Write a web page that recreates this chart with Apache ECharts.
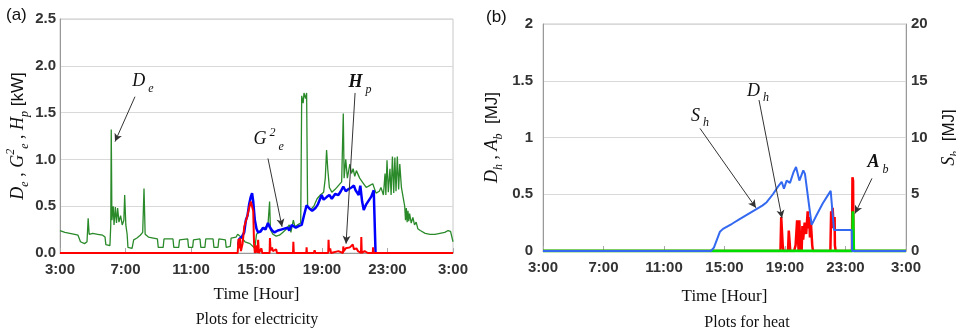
<!DOCTYPE html>
<html><head><meta charset="utf-8">
<script src="https://cdn.jsdelivr.net/npm/echarts@6/dist/echarts.min.js"></script>
<style>html,body{margin:0;padding:0;background:#fff}#c{width:956px;height:335px}</style>
</head><body><div id="c"></div>
<script>
// x values are hours elapsed since 3:00 (0..24)
const xTickLabels = ['3:00','7:00','11:00','15:00','19:00','23:00','3:00'];

// (a) electricity [kW]
const deData = [[0,0.24],[0.3,0.22],[0.6,0.21],[0.9,0.2],[1.1,0.19],[1.25,0.12],[1.5,0.1],[1.65,0.12],[1.72,0.37],[1.78,0.2],[2.0,0.21],[2.3,0.2],[2.6,0.19],[2.75,0.17],[2.8,0.09],[3.05,0.08],[3.1,0.3],[3.13,1.32],[3.17,0.35],[3.25,0.5],[3.3,0.3],[3.38,0.49],[3.45,0.32],[3.52,0.48],[3.6,0.33],[3.7,0.4],[3.8,0.3],[3.9,0.35],[3.95,0.62],[4.02,0.3],[4.1,0.2],[4.15,0.06],[4.4,0.05],[4.5,0.14],[4.7,0.16],[4.9,0.19],[5.05,0.22],[5.13,0.69],[5.2,0.2],[5.4,0.17],[5.7,0.16],[5.95,0.15],[6.0,0.06],[6.3,0.06],[6.35,0.15],[6.9,0.15],[6.95,0.06],[7.25,0.06],[7.3,0.14],[7.8,0.15],[7.85,0.06],[8.1,0.06],[8.15,0.14],[8.55,0.15],[8.6,0.06],[8.85,0.06],[8.9,0.15],[9.35,0.15],[9.4,0.06],[9.65,0.06],[9.7,0.15],[10.1,0.14],[10.15,0.06],[10.4,0.07],[10.45,0.16],[10.75,0.17],[10.85,0.2],[11.0,0.18],[11.3,0.12],[11.6,0.1],[11.9,0.05],[12.0,0.2],[12.1,0.22],[12.3,0.25],[12.5,0.27],[12.7,0.3],[12.8,0.55],[12.85,0.25],[13.0,0.2],[13.2,0.18],[13.4,0.19],[13.6,0.22],[13.8,0.25],[14.0,0.3],[14.1,0.22],[14.25,0.35],[14.35,0.28],[14.5,0.3],[14.7,0.32],[14.76,1.68],[14.85,1.6],[14.9,1.71],[15.0,1.65],[15.06,1.71],[15.12,0.5],[15.3,0.46],[15.5,0.5],[15.7,0.58],[15.9,0.62],[16.1,0.65],[16.2,0.8],[16.28,1.1],[16.35,0.9],[16.45,0.7],[16.6,0.65],[16.8,0.68],[17.0,0.72],[17.2,0.76],[17.3,1.49],[17.35,0.8],[17.45,1.0],[17.55,0.8],[17.7,0.95],[17.8,0.85],[17.9,0.9],[18.0,0.82],[18.1,0.88],[18.3,0.8],[18.5,0.75],[18.7,0.7],[18.9,0.72],[19.1,0.74],[19.3,0.64],[19.5,0.66],[19.6,0.7],[19.75,0.62],[19.85,0.85],[19.9,0.62],[19.97,0.99],[20.05,0.65],[20.15,0.9],[20.22,0.62],[20.3,1.03],[20.38,0.64],[20.45,1.02],[20.52,0.66],[20.6,1.03],[20.68,0.68],[20.75,0.95],[20.85,0.7],[20.95,0.6],[21.05,0.5],[21.1,0.35],[21.15,0.48],[21.2,0.33],[21.25,0.45],[21.3,0.34],[21.35,0.42],[21.45,0.32],[21.55,0.38],[21.65,0.3],[21.75,0.33],[21.85,0.26],[22.0,0.24],[22.3,0.21],[22.6,0.2],[22.9,0.2],[23.2,0.21],[23.5,0.22],[23.7,0.24],[23.85,0.23],[24.0,0.12]];
const geData = [[10.88,0.08],[10.95,0.15],[11.1,0.17],[11.25,0.22],[11.35,0.35],[11.45,0.4],[11.55,0.52],[11.65,0.6],[11.73,0.64],[11.8,0.55],[11.9,0.35],[12.0,0.26],[12.1,0.22],[12.25,0.23],[12.4,0.27],[12.55,0.25],[12.7,0.32],[12.8,0.28],[12.95,0.24],[13.1,0.22],[13.3,0.24],[13.5,0.25],[13.7,0.26],[13.9,0.27],[14.0,0.24],[14.15,0.3],[14.25,0.32],[14.4,0.27],[14.6,0.29],[14.76,0.3],[14.9,0.4],[15.06,0.51],[15.2,0.48],[15.4,0.45],[15.6,0.48],[15.75,0.52],[15.98,0.62],[16.1,0.57],[16.3,0.6],[16.45,0.62],[16.6,0.58],[16.8,0.63],[17.0,0.62],[17.15,0.66],[17.3,0.71],[17.45,0.66],[17.6,0.68],[17.8,0.7],[17.95,0.72],[18.05,0.67],[18.15,0.65],[18.24,0.62],[18.34,0.72],[18.45,0.55],[18.55,0.46],[18.7,0.52],[18.85,0.56],[19.0,0.6],[19.16,0.67],[19.25,0.66],[19.27,0]];
const hpData = [[0,0],[10.85,0],[10.9,0.15],[10.95,0.05],[11.0,0.16],[11.05,0.02],[11.15,0.1],[11.25,0.28],[11.35,0.3],[11.45,0.4],[11.55,0.48],[11.65,0.55],[11.73,0.57],[11.8,0.45],[11.85,0.1],[11.9,0],[12.0,0.08],[12.05,0],[12.1,0.14],[12.15,0],[12.3,0.05],[12.35,0],[12.8,0],[12.82,0.16],[12.86,0.03],[12.95,0.06],[13.0,0.02],[13.2,0.04],[13.25,0],[14.23,0],[14.25,0.12],[14.28,0],[15.04,0],[15.06,0.06],[15.08,0],[15.5,0],[15.55,0.03],[15.6,0],[16.38,0],[16.4,0.14],[16.43,0.02],[16.5,0.05],[16.55,0],[17.0,0.02],[17.1,0],[17.28,0],[17.3,0.07],[17.33,0.02],[17.45,0.05],[17.5,0.03],[17.7,0.06],[17.8,0.04],[17.88,0.09],[17.95,0.04],[18.1,0.05],[18.2,0.02],[18.38,0],[18.4,0.17],[18.43,0],[18.6,0.02],[18.8,0],[19.1,0],[19.12,0.06],[19.15,0],[24,0]];

// (b) heat [MJ]
const shData = [[0,0],[11.1,0],[11.3,0.3],[11.5,1.0],[11.7,1.7],[11.9,1.95],[12.5,2.4],[13.0,2.8],[13.5,3.2],[14.0,3.6],[14.5,4.0],[14.79,4.3],[15.2,5.0],[15.5,5.6],[15.78,6.1],[15.93,5.5],[16.11,6.2],[16.33,6.0],[16.55,6.9],[16.73,7.4],[16.95,6.2],[17.21,7.1],[17.32,6.8],[17.76,2.3],[18.1,3.2],[18.5,4.2],[19.02,5.3],[19.24,1.85],[20.41,1.85],[20.44,0],[24,0]];
const dhData = [[0,0],[15.7,0],[15.75,0.3],[15.8,0.31],[15.85,0.05],[15.9,0],[16.2,0],[16.25,0.18],[16.3,0.19],[16.35,0],[16.6,0],[16.7,0.05],[16.8,0.27],[16.85,0.26],[16.9,0],[16.95,0.27],[17.0,0.05],[17.1,0],[17.15,0.22],[17.2,0.1],[17.3,0.25],[17.4,0.15],[17.5,0.35],[17.55,0.2],[17.6,0.3],[17.65,0.12],[17.7,0.28],[17.8,0.05],[17.85,0],[19.0,0],[19.05,0.35],[19.1,0.2],[19.15,0.38],[19.2,0.25],[19.28,0.3],[19.3,0.05],[19.35,0],[20.43,0],[20.46,0.65],[20.5,0.62],[20.53,0],[24,0]];
const abData = [[0,0],[20.47,0],[20.49,0.35],[20.52,0.35],[20.54,0],[24,0]];

const serif = 'Liberation Serif', sans = 'Liberation Sans';
const rich = {
  i: {fontFamily: serif, fontStyle: 'italic', fontSize: 18, lineHeight: 26, verticalAlign: 'middle', color: '#111'},
  b: {fontFamily: serif, fontStyle: 'italic', fontWeight: 'bold', fontSize: 18, lineHeight: 26, verticalAlign: 'middle', color: '#111'},
  s: {fontFamily: serif, fontStyle: 'italic', fontSize: 12, lineHeight: 12, verticalAlign: 'bottom', color: '#111'},
  p: {fontFamily: serif, fontStyle: 'italic', fontSize: 12, lineHeight: 12, verticalAlign: 'top', color: '#111'},
  n: {fontFamily: serif, fontSize: 18, lineHeight: 26, verticalAlign: 'middle', color: '#111'},
  u: {fontFamily: sans, fontSize: 17, lineHeight: 26, verticalAlign: 'middle', color: '#111'}
};
const xLabel = v => xTickLabels[Math.round(v / 4)];
const axisLbl = {fontFamily: sans, fontSize: 15, fontWeight: 'bold', color: '#333'};

function xAxisDef(grid, gap) {
  return {type: 'value', gridIndex: grid, min: 0, max: 24, interval: 4,
    axisLine: {lineStyle: {color: '#999'}}, axisTick: {inside: true, length: 5, lineStyle: {color: '#aaa'}},
    splitLine: {show: false}, axisLabel: Object.assign({formatter: xLabel, margin: 9}, axisLbl),
    name: 'Time [Hour]', nameLocation: 'middle', nameGap: gap,
    nameTextStyle: {fontFamily: serif, fontSize: 17, color: '#111'}};
}
function arrow(a, b) { return [{coord: a}, {coord: b}]; }
const markLineStyle = {silent: true, symbol: ['none', 'arrow'], symbolSize: [6, 8], label: {show: false},
  lineStyle: {color: '#333', width: 1, type: 'solid'}, emphasis: {disabled: true}};
function labelPt(coord, text) {
  return {coord: coord, symbol: 'circle', symbolSize: 1, itemStyle: {color: 'rgba(0,0,0,0)'},
    label: {show: true, position: 'inside', formatter: text, rich: rich}};
}

const chart = echarts.init(document.getElementById('c'));
chart.setOption({
  animation: false,
  grid: [
    {left: 60, top: 19, width: 393, height: 234, show: true, borderColor: '#c8c8c8', borderWidth: 1, containLabel: false, outerBoundsMode: 'none'},
    {left: 543, top: 24, width: 363, height: 227, show: true, borderColor: '#c8c8c8', borderWidth: 1, containLabel: false, outerBoundsMode: 'none'}
  ],
  xAxis: [xAxisDef(0, 33), xAxisDef(1, 37)],
  yAxis: [
    {type: 'value', gridIndex: 0, min: 0, max: 2.5, interval: 0.5,
      axisLine: {show: true, lineStyle: {color: '#999'}}, axisTick: {show: false},
      splitLine: {lineStyle: {color: '#d9d9d9'}},
      axisLabel: Object.assign({formatter: v => v.toFixed(1), margin: 4}, axisLbl),
      name: '{i|D}{s|e}{n| , }{i|G}{p|2}{s|e}{n| , }{i|H}{s|p}{u| [kW]}', nameLocation: 'middle', nameRotate: 90, nameGap: 28,
      nameTextStyle: {rich: rich}},
    {type: 'value', gridIndex: 1, min: 0, max: 2, interval: 0.5,
      axisLine: {show: true, lineStyle: {color: '#999'}}, axisTick: {show: false},
      splitLine: {lineStyle: {color: '#d9d9d9'}},
      axisLabel: Object.assign({margin: 10}, axisLbl),
      name: '{i|D}{s|h}{n| , }{i|A}{s|b}{u|  [MJ]}', nameLocation: 'middle', nameRotate: 90, nameGap: 38,
      nameTextStyle: {rich: rich}},
    {type: 'value', gridIndex: 1, position: 'right', min: 0, max: 20, interval: 5,
      axisLine: {show: true, lineStyle: {color: '#999'}}, axisTick: {show: false},
      splitLine: {show: false},
      axisLabel: Object.assign({margin: 5}, axisLbl),
      name: '{i|S}{s|h}{u|  [MJ]}', nameLocation: 'middle', nameRotate: 90, nameGap: 30,
      nameTextStyle: {rich: rich}}
  ],
  series: [
    {type: 'line', xAxisIndex: 0, yAxisIndex: 0, data: deData, showSymbol: false, z: 2,
      lineStyle: {color: '#2a8a2a', width: 1.3},
      markLine: Object.assign({data: [arrow([4.58, 1.67], [3.36, 1.19])]}, markLineStyle),
      markPoint: {data: [labelPt([5.07, 1.83], '{i|D}{s| e}')]}},
    {type: 'line', xAxisIndex: 0, yAxisIndex: 0, data: geData, showSymbol: false, z: 3,
      lineStyle: {color: '#0000ff', width: 2.5},
      markLine: Object.assign({data: [arrow([12.7, 1.01], [13.56, 0.28])]}, markLineStyle),
      markPoint: {data: [labelPt([12.75, 1.21], '{i|G}{p| 2}{s| e}')]}},
    {type: 'line', xAxisIndex: 0, yAxisIndex: 0, data: hpData, showSymbol: false, z: 4,
      lineStyle: {color: '#ff0000', width: 2},
      markLine: Object.assign({data: [arrow([18.02, 1.71], [17.47, 0.1])]}, markLineStyle),
      markPoint: {data: [labelPt([18.32, 1.82], '{b|H}{s| p}')]}},
    {type: 'line', xAxisIndex: 1, yAxisIndex: 1, data: dhData, showSymbol: false, z: 2,
      lineStyle: {color: '#ff0000', width: 2.5},
      markLine: Object.assign({data: [arrow([14.28, 1.33], [15.8, 0.29])]}, markLineStyle),
      markPoint: {data: [labelPt([14.21, 1.41], '{i|D}{s| h}')]}},
    {type: 'line', xAxisIndex: 1, yAxisIndex: 1, data: abData, showSymbol: false, z: 3,
      lineStyle: {color: '#00dd00', width: 3},
      markLine: Object.assign({data: [arrow([21.75, 0.64], [20.63, 0.33])]}, markLineStyle),
      markPoint: {data: [labelPt([22.15, 0.78], '{b|A}{s| b}')]}},
    {type: 'line', xAxisIndex: 1, yAxisIndex: 2, data: shData, showSymbol: false, z: 4,
      lineStyle: {color: '#3368f0', width: 2},
      markLine: Object.assign({data: [arrow([10.38, 10.8], [14.08, 3.8])]}, markLineStyle),
      markPoint: {data: [labelPt([10.38, 11.9], '{i|S}{s| h}')]}}
  ],
  graphic: [
    {type: 'text', left: 6, top: 7, style: {text: '(a)', font: '17px Liberation Sans', fill: '#111'}},
    {type: 'text', left: 486, top: 9, style: {text: '(b)', font: '17px Liberation Sans', fill: '#111'}},
    {type: 'text', x: 257, y: 320, style: {text: 'Plots for electricity', font: '16px Liberation Serif', fill: '#111', align: 'center', verticalAlign: 'middle'}},
    {type: 'text', x: 747, y: 323, style: {text: 'Plots for heat', font: '16px Liberation Serif', fill: '#111', align: 'center', verticalAlign: 'middle'}}
  ]
});
</script></body></html>
